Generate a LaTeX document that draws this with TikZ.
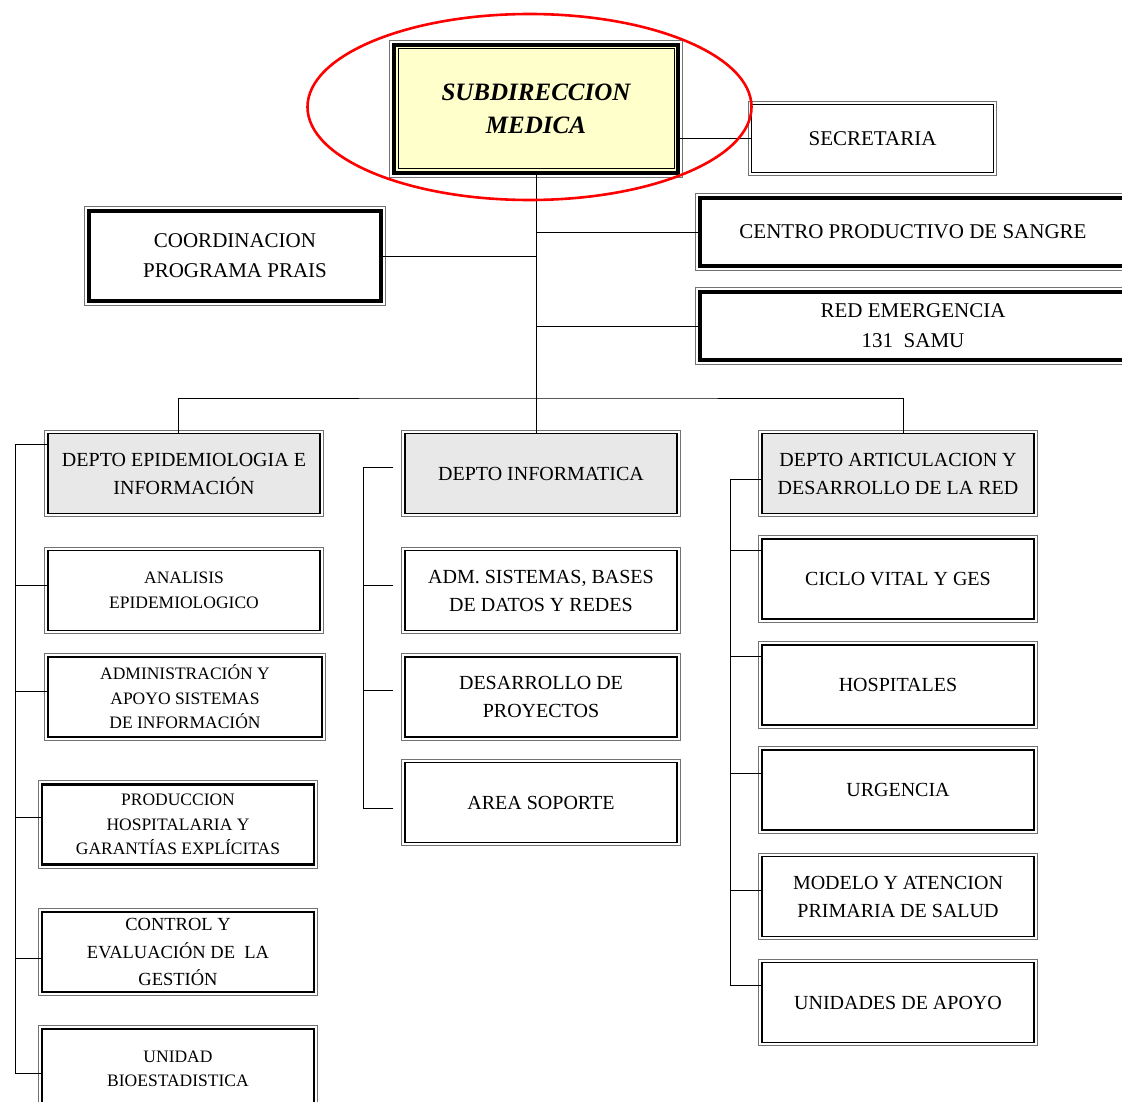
\documentclass[tikz,border=0pt]{standalone}
\usepackage{fontspec}
\setmainfont{Liberation Serif}
\usetikzlibrary{calc}
\definecolor{subyellow}{HTML}{FFFFCC}
\definecolor{deptogray}{HTML}{E8E8E8}
\tikzset{
  unit/.style={draw, line width=1.5pt, align=center, inner sep=2pt, minimum width=272pt, minimum height=80pt, font=\fontsize{20}{28}\selectfont},
  small/.style={font=\fontsize{17.5}{24.5}\selectfont},
  heavy/.style={line width=4pt, font=\fontsize{21}{30}\selectfont},
  depto/.style={unit, fill=deptogray},
  frame/.style={draw=black!55, line width=0.8pt},
  link/.style={draw, line width=0.9pt}
}

\begin{document}
\begin{tikzpicture}[x=1pt,y=-1pt]
\useasboundingbox (0,0) rectangle (1122,1102);
\clip (0,0) rectangle (1122,1102);

\node[unit, heavy, fill=subyellow, minimum width=284pt, minimum height=128pt, font=\fontsize{25}{33}\selectfont\bfseries\itshape] (sub) at (536,109) {SUBDIRECCION\\MEDICA};
\draw[line width=1pt] ([shift={(6pt,-6pt)}]sub.north west) rectangle ([shift={(-6pt,6pt)}]sub.south east);
\node[unit, minimum width=242pt, minimum height=68pt, font=\fontsize{21}{30}\selectfont] (secr) at (872.5,138.5) {SECRETARIA};
\node[unit, heavy, minimum width=292pt, minimum height=90pt] (coord) at (235,256) {COORDINACION\\PROGRAMA PRAIS};
\node[unit, heavy, minimum width=426pt, minimum height=68pt] (centro) at (913,232) {CENTRO PRODUCTIVO DE SANGRE};
\node[unit, heavy, minimum width=426pt, minimum height=68pt] (red) at (913,326) {RED EMERGENCIA\\131~~SAMU};

\node[depto] (epi) at (184,473.5) {DEPTO EPIDEMIOLOGIA E\\INFORMACIÓN};
\node[depto] (info) at (541,473.5) {DEPTO INFORMATICA};
\node[depto] (art) at (898,473.5) {DEPTO ARTICULACION Y\\DESARROLLO DE LA RED};

\node[unit, small] (ana) at (184,590.5) {ANALISIS\\EPIDEMIOLOGICO};
\node[unit, small, line width=2.4pt, minimum width=274pt] (adm) at (185,697) {ADMINISTRACIÓN Y\\APOYO SISTEMAS\\DE INFORMACIÓN};
\node[unit, small, line width=2.4pt] (prod) at (178,824.5) {PRODUCCION\\HOSPITALARIA Y\\GARANTÍAS EXPLÍCITAS};
\node[unit, font=\fontsize{18.5}{27.5}\selectfont] (ctrl) at (178,952) {CONTROL Y\\EVALUACIÓN DE~~LA\\GESTIÓN};
\node[unit, small] (unid) at (178,1069) {UNIDAD\\BIOESTADISTICA};

\node[unit] (sist) at (541,590.5) {ADM. SISTEMAS, BASES\\DE DATOS Y REDES};
\node[unit] (proy) at (541,697) {DESARROLLO DE\\PROYECTOS};
\node[unit] (soporte) at (541,802.5) {AREA SOPORTE};

\node[unit] (ciclo) at (898,579) {CICLO VITAL Y GES};
\node[unit] (hosp) at (898,685) {HOSPITALES};
\node[unit] (urg) at (898,790) {URGENCIA};
\node[unit] (modelo) at (898,896.5) {MODELO Y ATENCION\\PRIMARIA DE SALUD};
\node[unit] (apoyo) at (898,1002.5) {UNIDADES DE APOYO};

\foreach \n in {sub,secr,coord,centro,red,epi,info,art,ana,adm,prod,ctrl,unid,sist,proy,soporte,ciclo,hosp,urg,modelo,apoyo}
  \draw[frame] ([shift={(-2.5pt,2.5pt)}]\n.north west) rectangle ([shift={(2.5pt,-2.5pt)}]\n.south east);

\draw[link] (sub.south) -- (sub.south |- info.north);
\draw[link] (secr.west) -- (secr.west -| sub.east);
\draw[link] (coord.east) -- (coord.east -| sub.south);
\draw[link] (centro.west) -- (centro.west -| sub.south);
\draw[link] (red.west) -- (red.west -| sub.south);
\coordinate (bar) at (536,398);
\draw[link] ([xshift=-6pt]epi.north) |- (bar) -| ([xshift=5pt]art.north);

\coordinate (lt) at (15,444);
\coordinate (lb) at (15,1073);
\draw[link] (lt) -- (lb);
\foreach \n/\dy in {epi/29.5, ana/5.5, adm/6, prod/7.5, ctrl/-6, unid/-4}
  \draw[link] ([yshift=\dy pt]\n.west) coordinate (t) -- (t -| lt);

\coordinate (mt) at (363,467);
\coordinate (mb) at (363,808);
\draw[link] (mt) -- (mb);
\foreach \n/\dy in {info/6.5, sist/5.5, proy/7, soporte/-5.5}
  \draw[link] ([xshift=-11pt,yshift=\dy pt]\n.west) coordinate (t) -- (t -| mt);

\coordinate (rt) at (730,479);
\coordinate (rb) at (730,985);
\draw[link] (rt) -- (rb);
\foreach \n/\dy in {art/-5.5, ciclo/29, hosp/29, urg/17, modelo/6.5, apoyo/17.5}
  \draw[link] ([yshift=\dy pt]\n.west) coordinate (t) -- (t -| rt);

\draw[red, line width=2.6pt] (529.5,107) ellipse [x radius=222pt, y radius=93pt];
\end{tikzpicture}
\end{document}
